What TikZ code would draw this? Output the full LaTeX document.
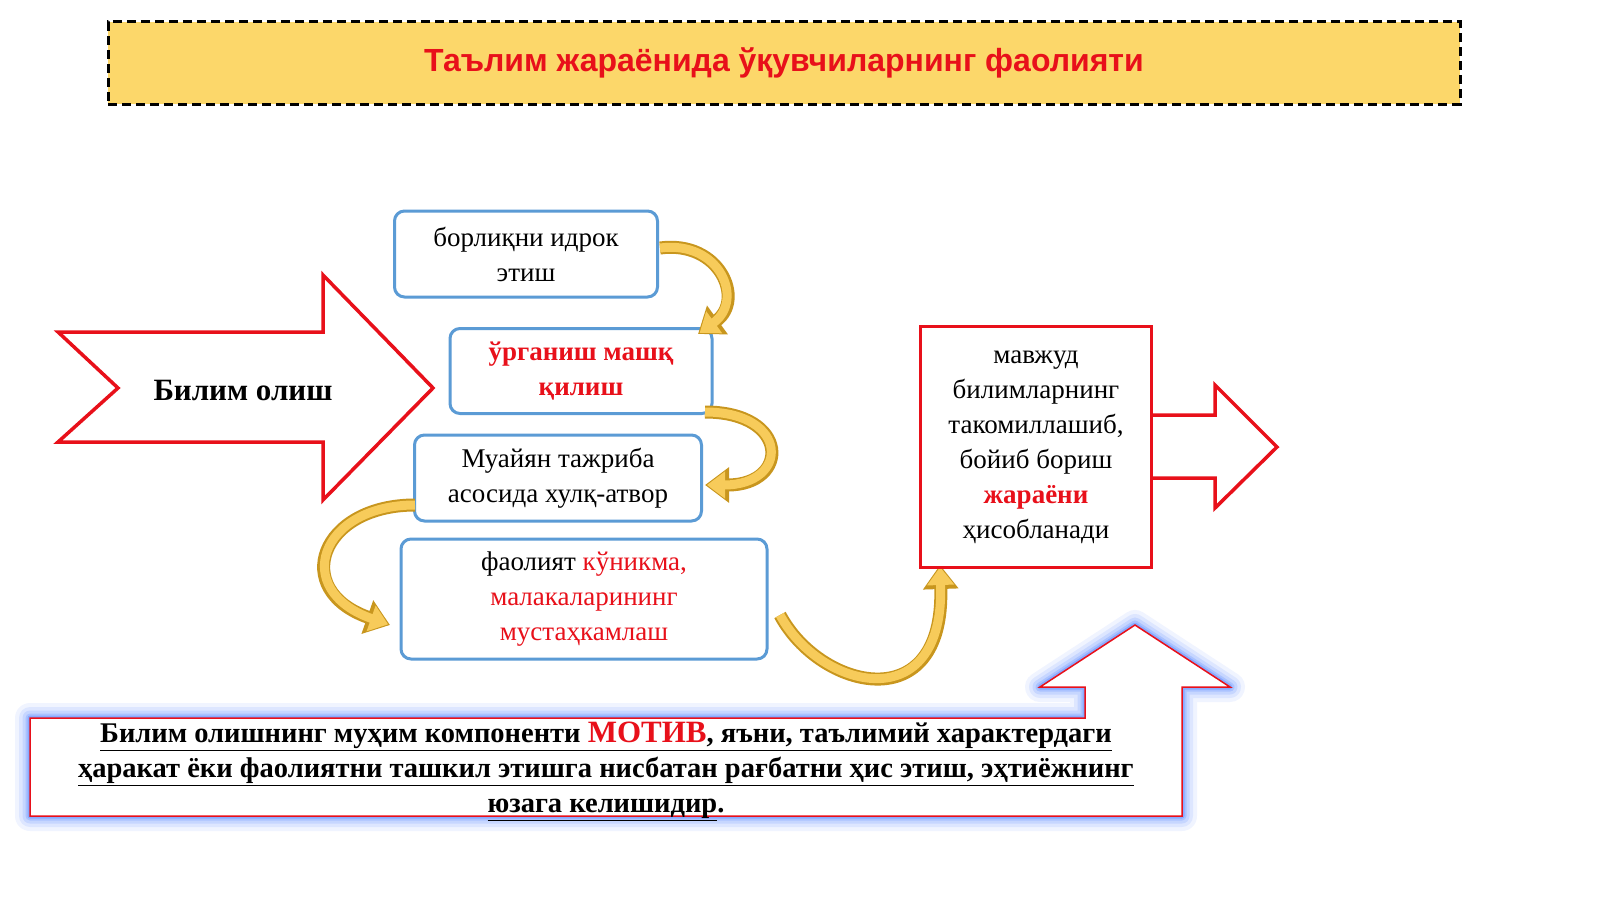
\documentclass[tikz,border=0pt]{standalone}
\usepackage{fontspec}
\setmainfont{Liberation Serif}
\newfontfamily\titlef{Liberation Sans}
\usetikzlibrary{arrows.meta}
\definecolor{tyel}{HTML}{FCD76A}
\definecolor{bblue}{HTML}{5B9BD5}
\definecolor{rred}{HTML}{E8101A}
\definecolor{gout}{HTML}{C8961E}
\definecolor{gin}{HTML}{F7CB5A}
\tikzset{
 bx/.style={draw=bblue,line width=3pt,rounded corners=10pt,fill=white},
 txt/.style={align=center,font=\fontsize{27}{35}\selectfont},
 rline/.style={draw=rred,line width=3.5pt,fill=white,line join=miter},
 cout/.style={line width=13pt,draw=gout,-{Triangle[length=24pt,width=34pt]}},
 cin/.style={line width=9pt,draw=gin,-{Triangle[length=18pt,width=26pt]}}
}
\newcommand{\carrow}[1]{\draw[cout] #1; \draw[cin,shorten >=2pt] #1;}
\begin{document}
\begin{tikzpicture}[x=1pt,y=-1pt]
\useasboundingbox (0,0) rectangle (1600,899);
\fill[white] (0,0) rectangle (1600,899);
% title
\node[draw=black,dash pattern=on 9pt off 5pt,line width=3pt,fill=tyel,minimum width=1352pt,minimum height=82pt,
 font=\titlef\bfseries\fontsize{32}{38}\selectfont,text=rred] (title) at (784,63) {Таълим жараёнида ўқувчиларнинг фаолияти};
% left arrow
\draw[rline] (58,332) -- (323,332) -- (323,275) -- (433,388) -- (323,500) -- (323,442) -- (58,442) -- (118,388) -- cycle;
\node[txt,font=\bfseries\fontsize{31}{36}\selectfont] (bo) at (243,390) {Билим олиш};
% boxes
\node[bx,txt,minimum width=263pt,minimum height=86pt] (b1) at (526,254) {борлиқни идрок\\этиш};
\node[bx,txt,minimum width=262pt,minimum height=85pt,text=rred,font=\bfseries\fontsize{27}{35}\selectfont] (b2) at (581,371) {ўрганиш машқ\\қилиш};
\node[bx,txt,minimum width=287pt,minimum height=86pt] (b3) at (558,478) {Муайян тажриба\\асосида хулқ-атвор};
\node[bx,txt,minimum width=366pt,minimum height=120pt] (b4) at (584,599) {фаолият \textcolor{rred}{кўникма,}\\\textcolor{rred}{малакаларининг}\\\textcolor{rred}{мустаҳкамлаш}};
% curved arrows
\coordinate (c1s) at (660,248); \coordinate (c1e) at (698,334);
\carrow{(c1s) .. controls (720,240) and (745,300) .. (c1e)}
\coordinate (c2s) at (705,412); \coordinate (c2e) at (705,485);
\carrow{(c2s) .. controls (790,412) and (790,485) .. (c2e)}
\coordinate (c3s) at (415,505); \coordinate (c3e) at (390,625);
\carrow{(c3s) .. controls (320,505) and (290,590) .. (c3e)}
\coordinate (c4s) at (780,615); \coordinate (c4e) at (940,565);
\carrow{(c4s) .. controls (820,690) and (945,720) .. (c4e)}
% right box + arrow
\draw[rline] (1152,415) -- (1215,415) -- (1215,385) -- (1277,447) -- (1215,508) -- (1215,478) -- (1152,478);
\node[draw=rred,line width=3.5pt,fill=white,minimum width=231pt,minimum height=241pt,txt] (rb) at (1036,447)
 {мавжуд\\билимларнинг\\такомиллашиб,\\бойиб бориш\\\textcolor{rred}{\bfseries жараёни}\\ҳисобланади};
% bottom glow shape
\foreach \w/\o in {30/0.06,22/0.08,15/0.1,9/0.14,5/0.2}{
 \draw[draw=blue!70!cyan,line width=\w pt,opacity=\o,line join=round]
 (30,718) -- (1085,718) -- (1085,687) -- (1040,687) -- (1135,625) -- (1230,687) -- (1182,687) -- (1182,816) -- (30,816) -- cycle;}
\draw[draw=rred,line width=1.5pt,fill=white]
 (30,718) -- (1085,718) -- (1085,687) -- (1040,687) -- (1135,625) -- (1230,687) -- (1182,687) -- (1182,816) -- (30,816) -- cycle;
\node[txt,font=\bfseries\fontsize{28.5}{35}\selectfont] (bt) at (606,771)
 {\underline{Билим олишнинг муҳим компоненти \textcolor{rred}{\fontsize{31}{35}\selectfont МОТИВ}, яъни, таълимий характердаги}\\
 \underline{ҳаракат ёки фаолиятни ташкил этишга нисбатан рағбатни ҳис этиш, эҳтиёжнинг}\\
 \underline{юзага келишидир}.};
\end{tikzpicture}
\end{document}
